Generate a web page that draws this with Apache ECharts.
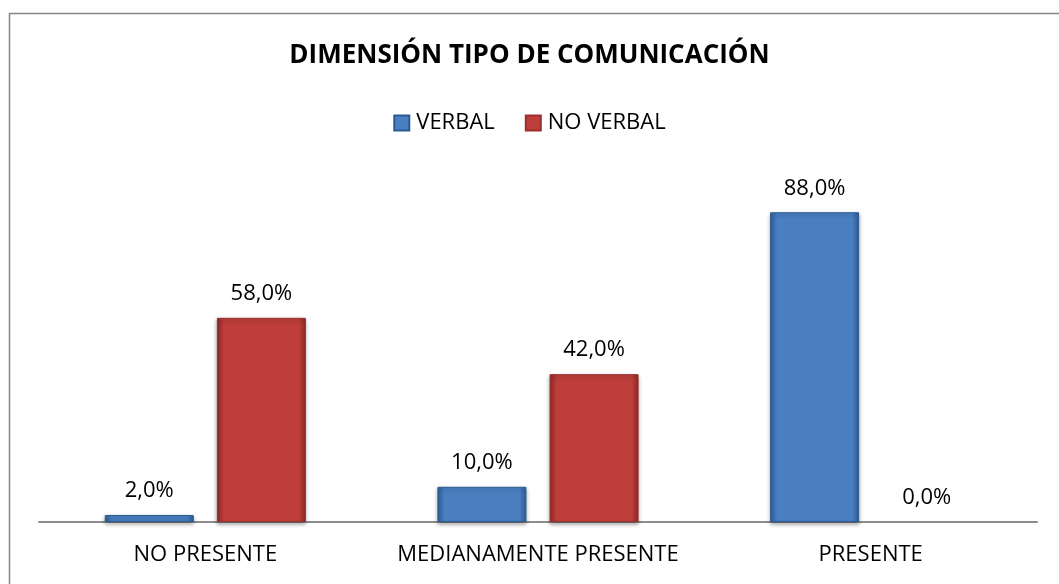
<!DOCTYPE html>
<html>
<head>
<meta charset="utf-8">
<script src="https://cdn.jsdelivr.net/npm/echarts@6/dist/echarts.min.js"></script>
<style>
  html, body { margin: 0; padding: 0; background: #fff; }
  #main { width: 1059px; height: 584px; }
</style>
</head>
<body>
<div id="main"></div>
<script>
var categories = ['NO PRESENTE', 'MEDIANAMENTE PRESENTE', 'PRESENTE'];
var verbal = [2.0, 10.0, 88.0];
var noVerbal = [58.0, 42.0, 0.0];

var myChart = echarts.init(document.getElementById('main'));

function bevel(base, dark) {
    return new echarts.graphic.LinearGradient(0, 0, 1, 0, [
        { offset: 0, color: dark },
        { offset: 0.08, color: base },
        { offset: 0.92, color: base },
        { offset: 1, color: dark }
    ]);
}

function pct(p) {
    return p.value.toFixed(1).replace('.', ',') + '%';
}

// hide the border of zero-height bars
function items(arr) {
    return arr.map(function (v) {
        return v === 0 ? { value: v, itemStyle: { borderWidth: 0, shadowBlur: 0 } } : v;
    });
}

var labelStyle = {
    show: true,
    position: 'top',
    distance: 13,
    fontFamily: 'Open Sans',
    fontSize: 22,
    color: '#000',
    formatter: pct
};

option = {
    animation: false,
    textStyle: { fontFamily: 'Open Sans' },
    graphic: [{
        type: 'rect',
        shape: { x: 9.5, y: 13.5, width: 1100, height: 700 },
        style: { fill: 'none', stroke: '#868686', lineWidth: 1.5 },
        silent: true
    }],
    title: {
        text: 'DIMENSIÓN TIPO DE COMUNICACIÓN',
        left: 'center',
        top: 38,
        textStyle: { fontFamily: 'Open Sans', fontWeight: 'bold', fontSize: 26, color: '#000' }
    },
    legend: {
        top: 107,
        left: 'center',
        itemWidth: 15,
        itemHeight: 15,
        itemGap: 30,
        icon: 'rect',
        textStyle: { fontFamily: 'Open Sans', fontSize: 22, color: '#000', padding: [0, 0, 0, 2] },
        data: ['VERBAL', 'NO VERBAL']
    },
    grid: { left: 39, right: 22, top: 170, bottom: 62, containLabel: false },
    xAxis: {
        type: 'category',
        data: categories,
        axisLine: { lineStyle: { color: '#8c8c8c', width: 2 } },
        axisTick: { show: false },
        axisLabel: { interval: 0, hideOverlap: false, fontFamily: 'Open Sans', fontSize: 22, color: '#000', margin: 22 }
    },
    yAxis: {
        type: 'value',
        min: 0,
        max: 100,
        show: false
    },
    series: [
        {
            name: 'VERBAL',
            type: 'bar',
            data: items(verbal),
            barWidth: 89,
            barGap: '26%',
            itemStyle: {
                color: bevel('#4a7fc2', '#2f5f99'),
                borderColor: '#2c5a92',
                borderWidth: 1,
                shadowColor: 'rgba(0,0,0,0.35)',
                shadowBlur: 4,
                shadowOffsetY: 2
            },
            label: labelStyle
        },
        {
            name: 'NO VERBAL',
            type: 'bar',
            data: items(noVerbal),
            barWidth: 89,
            itemStyle: {
                color: bevel('#be3e3b', '#8e2a28'),
                borderColor: '#9b2f2c',
                borderWidth: 1,
                shadowColor: 'rgba(0,0,0,0.35)',
                shadowBlur: 4,
                shadowOffsetY: 2
            },
            label: labelStyle
        }
    ]
};
myChart.setOption(option);
</script>
</body>
</html>
